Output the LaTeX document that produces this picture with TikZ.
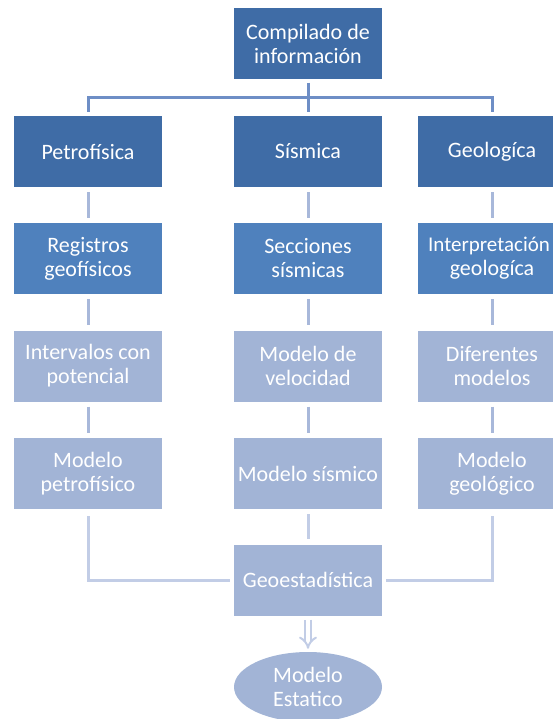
\documentclass[tikz,border=0pt]{standalone}
\usepackage{fontspec}
\setmainfont{Carlito}
\usetikzlibrary{shapes.geometric,arrows.meta}
\definecolor{darkbox}{RGB}{63,108,166}
\definecolor{midbox}{RGB}{79,129,189}
\definecolor{lightbox}{RGB}{162,180,214}
\definecolor{toplink}{RGB}{110,142,198}
\definecolor{rowlink}{RGB}{168,184,218}
\definecolor{lowlink}{RGB}{194,205,230}
\tikzset{
	box/.style={rectangle,fill=#1,text=white,minimum width=148pt,minimum height=71pt,inner sep=0pt,align=center,font=\fontsize{22}{24}\selectfont},
	oval/.style={ellipse,fill=#1,text=white,minimum width=148pt,minimum height=70pt,inner sep=0pt,align=center,font=\fontsize{22}{24}\selectfont},
	link/.style={draw=#1,line width=3pt}
}
\begin{document}
\begin{tikzpicture}[x=1pt,y=-1pt]
	\useasboundingbox (0,0) rectangle (553,719);

	\node [box=darkbox] (compilado) at (308,44) {Compilado de\\información};

	\node [box=darkbox] (petro) at (88,151.5) {Petrofísica};
	\node [box=darkbox] (sism) at (308,151.5) {Sísmica};
	\node [box=darkbox] (geol) at (492,151.5) {Geologíca};

	\node [box=midbox] (registros) at (88,258.5) {Registros\\geofísicos};
	\node [box=midbox] (secciones) at (308,258.5) {Secciones\\sísmicas};
	\node [box=midbox] (interp) at (492,258.5) {\hspace*{-6pt}{\fontsize{21}{24}\selectfont Interpretación}\\geologíca};

	\node [box=lightbox] (intervalos) at (88,366) {Intervalos con\\potencial};
	\node [box=lightbox] (velocidad) at (308,366) {Modelo de\\velocidad};
	\node [box=lightbox] (diferentes) at (492,366) {Diferentes\\modelos};

	\node [box=lightbox] (mpetro) at (88,473.5) {Modelo\\petrofísico};
	\node [box=lightbox] (msism) at (308,473.5) {Modelo sísmico};
	\node [box=lightbox] (mgeol) at (492,473.5) {Modelo\\geológico};

	\node [box=lightbox] (geoest) at (308,580) {Geoestadística};
	\node [oval=lightbox] (estatico) at (308,687) {Modelo\\Estatico};

	\coordinate (bus) at (308,98);
	\draw [link=toplink,shorten <=3pt] (compilado) -- (bus);
	\draw [link=toplink,shorten <=4pt,shorten >=4pt] (petro) |- (bus) -| (geol);
	\draw [link=toplink,shorten >=4pt] (bus) -- (sism);

	\draw [link=rowlink,shorten <=5pt,shorten >=5pt] (petro) -- (registros);
	\draw [link=rowlink,shorten <=5pt,shorten >=5pt] (sism) -- (secciones);
	\draw [link=rowlink,shorten <=5pt,shorten >=5pt] (geol) -- (interp);
	\draw [link=rowlink,shorten <=5pt,shorten >=5pt] (registros) -- (intervalos);
	\draw [link=rowlink,shorten <=5pt,shorten >=5pt] (secciones) -- (velocidad);
	\draw [link=rowlink,shorten <=5pt,shorten >=5pt] (interp) -- (diferentes);
	\draw [link=rowlink,shorten <=5pt,shorten >=5pt] (intervalos) -- (mpetro);
	\draw [link=rowlink,shorten <=5pt,shorten >=5pt] (velocidad) -- (msism);
	\draw [link=rowlink,shorten <=5pt,shorten >=5pt] (diferentes) -- (mgeol);

	\draw [link=lowlink,shorten <=7pt,shorten >=4pt] (mpetro) |- (geoest);
	\draw [link=lowlink,shorten <=7pt,shorten >=4pt] (mgeol) |- (geoest);
	\draw [link=lowlink,shorten <=5pt,shorten >=5pt] (msism) -- (geoest);

	\draw [draw=lowlink,double=white,double distance=4pt,line width=2pt,-{Implies},shorten <=4pt,shorten >=3pt] (geoest) -- (estatico);
\end{tikzpicture}
\end{document}
